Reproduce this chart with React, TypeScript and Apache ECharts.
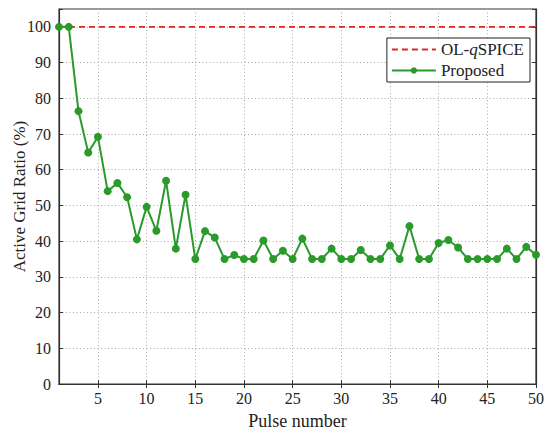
import React, { useEffect, useRef } from "react";
import * as echarts from "echarts";

const pulses: number[] = Array.from({ length: 50 }, (_, i) => i + 1);
const baselineValues: number[] = pulses.map(() => 100);
const proposedValues: number[] = [
  100, 100, 76.4, 64.8, 69.2, 54.0, 56.3, 52.3, 40.5, 49.6,
  42.9, 56.9, 37.9, 53.0, 35.0, 42.8, 41.0, 35.0, 36.1, 35.0,
  35.0, 40.2, 35.0, 37.3, 35.0, 40.7, 35.0, 35.0, 37.9, 35.0,
  35.0, 37.5, 35.0, 35.0, 38.8, 35.0, 44.2, 35.0, 35.0, 39.5,
  40.3, 38.2, 35.0, 35.0, 35.0, 35.0, 37.9, 35.0, 38.4, 36.2,
];
const xTicks: number[] = [5, 10, 15, 20, 25, 30, 35, 40, 45, 50];
const seriesNames: string[] = ["OL-qSPICE", "Proposed"];

const FONT = "'Liberation Serif', 'Times New Roman', serif";
const AXIS_COLOR = "#333";

export default function App() {
  const ref = useRef<HTMLDivElement>(null);
  useEffect(() => {
    if (!ref.current) return;
    const chart = echarts.init(ref.current, undefined, { renderer: "svg" });
    const grid = { left: 59, right: 14, top: 9, bottom: 51 };
    const splitLine = { show: true, lineStyle: { color: "#aaa", type: [1, 2.5] as any, width: 1 } };
    const legendText = {
      fontFamily: FONT,
      fontSize: 17,
      color: "#222",
      rich: { i: { fontFamily: FONT, fontStyle: "italic", fontSize: 17, color: "#222" } },
    };
    chart.setOption({
      animation: false,
      backgroundColor: "#fff",
      textStyle: { fontFamily: FONT },
      grid: {
        ...grid,
        outerBoundsMode: "none",
        containLabel: false,
        show: true,
        borderColor: AXIS_COLOR,
        borderWidth: 1.2,
        backgroundColor: "transparent",
      },
      xAxis: [
        {
          type: "value",
          min: 1,
          max: 50,
          position: "bottom",
          name: "Pulse number",
          nameLocation: "middle",
          nameGap: 28,
          nameTextStyle: { fontFamily: FONT, fontSize: 18, color: "#222" },
          axisLine: { show: true, lineStyle: { color: AXIS_COLOR, width: 1.2 } },
          axisTick: { show: true, inside: true, length: 4, customValues: xTicks, lineStyle: { color: AXIS_COLOR } },
          axisLabel: { customValues: xTicks, fontFamily: FONT, fontSize: 16, color: "#222", margin: 6 },
          splitLine,
        },
        {
          type: "value",
          min: 1,
          max: 50,
          position: "top",
          axisLine: { show: true, lineStyle: { color: AXIS_COLOR, width: 1.2 } },
          axisTick: { show: true, inside: true, length: 4, customValues: xTicks, lineStyle: { color: AXIS_COLOR } },
          axisLabel: { show: false },
          splitLine: { show: false },
        },
      ],
      yAxis: [
        {
          type: "value",
          min: 0,
          max: 105,
          interval: 10,
          position: "left",
          name: "Active Grid Ratio (%)",
          nameLocation: "middle",
          nameGap: 31,
          nameMoveOverlap: false,
          nameTextStyle: { fontFamily: FONT, fontSize: 17, color: "#222" },
          axisLine: { show: true, lineStyle: { color: AXIS_COLOR, width: 1.2 } },
          axisTick: { show: true, inside: true, length: 4, lineStyle: { color: AXIS_COLOR } },
          axisLabel: {
            fontFamily: FONT,
            fontSize: 16,
            color: "#222",
            margin: 8,
            formatter: (v: number) => (v > 100 ? "" : String(v)),
          },
          splitLine,
        },
        {
          type: "value",
          min: 0,
          max: 105,
          interval: 10,
          position: "right",
          axisLine: { show: true, lineStyle: { color: AXIS_COLOR, width: 1.2 } },
          axisTick: { show: true, inside: true, length: 4, lineStyle: { color: AXIS_COLOR } },
          axisLabel: { show: false },
          splitLine: { show: false },
        },
      ],
      legend: {
        right: 20,
        top: 38,
        orient: "vertical",
        backgroundColor: "#fff",
        borderColor: "#222",
        borderWidth: 1,
        borderRadius: 0,
        padding: [3, 6, 3, 4],
        itemGap: 4,
        itemWidth: 44,
        itemHeight: 8,
        textStyle: legendText,
        formatter: (name: string) => (name === "OL-qSPICE" ? "OL-{i|q}SPICE" : name),
        data: [
          { name: seriesNames[0], itemStyle: { opacity: 0 } },
          { name: seriesNames[1] },
        ],
      },
      series: [
        {
          name: seriesNames[0],
          type: "line",
          data: pulses.map((p, i) => [p, baselineValues[i]]),
          showSymbol: false,
          symbol: "none",
          lineStyle: { color: "#d62a2a", width: 1.8, type: [6, 4] as any },
          itemStyle: { color: "#d62a2a" },
          z: 3,
        },
        {
          name: seriesNames[1],
          type: "line",
          data: pulses.map((p, i) => [p, proposedValues[i]]),
          symbol: "circle",
          symbolSize: 8,
          lineStyle: { color: "#2a9a2a", width: 2 },
          itemStyle: { color: "#2a9a2a" },
          z: 4,
        },
      ],
    });
    return () => chart.dispose();
  }, []);
  return (
    <div
      ref={ref}
      style={{ position: "absolute", left: 0, top: 0, width: 550, height: 435 }}
    />
  );
}
